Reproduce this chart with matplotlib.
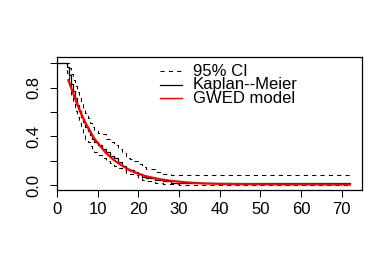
import matplotlib
matplotlib.use("Agg")
import matplotlib.pyplot as plt
from matplotlib.lines import Line2D

plt.rcParams['font.family'] = ['Liberation Sans', 'DejaVu Sans']

# Kaplan-Meier estimate (step function)
km_time = [0, 2.5, 3, 3.5, 4, 4.5, 5, 5.5, 6, 6.5, 7, 7.5, 8, 8.5, 9, 10, 11, 12,
           13, 14, 15, 16, 17, 18, 19, 20, 21, 22, 24, 26, 28, 30, 72]
km_surv = [1.0, 0.97, 0.90, 0.83, 0.77, 0.71, 0.66, 0.61, 0.56, 0.52, 0.48, 0.44,
           0.41, 0.38, 0.35, 0.33, 0.30, 0.27, 0.24, 0.22, 0.19, 0.16, 0.13, 0.12,
           0.11, 0.09, 0.07, 0.055, 0.04, 0.03, 0.02, 0.015, 0.015]
# 95% confidence limits
ci_upper = [1.0, 1.0, 0.96, 0.91, 0.86, 0.81, 0.76, 0.71, 0.67, 0.63, 0.59, 0.55,
            0.51, 0.48, 0.45, 0.43, 0.42, 0.38, 0.35, 0.33, 0.30, 0.26, 0.22, 0.21,
            0.20, 0.17, 0.15, 0.13, 0.11, 0.095, 0.085, 0.08, 0.08]
ci_lower = [1.0, 0.92, 0.82, 0.74, 0.67, 0.61, 0.56, 0.51, 0.47, 0.42, 0.38, 0.35,
            0.32, 0.29, 0.27, 0.25, 0.22, 0.20, 0.18, 0.16, 0.14, 0.12, 0.10, 0.09,
            0.08, 0.06, 0.045, 0.035, 0.02, 0.01, 0.006, 0.004, 0.004]
# GWED model fitted survival
gwed_time = [2.8, 4, 5, 6, 7, 8, 9, 10, 12, 14, 16, 18, 20, 22, 25, 28, 32, 36,
             40, 50, 60, 72]
gwed_surv = [0.86, 0.75, 0.66, 0.58, 0.51, 0.45, 0.39, 0.345, 0.265, 0.205, 0.16,
             0.12, 0.093, 0.072, 0.05, 0.035, 0.022, 0.014, 0.01, 0.007, 0.006, 0.005]

x_ticks = [0, 10, 20, 30, 40, 50, 60, 70]
y_ticks = [0.0, 0.2, 0.4, 0.6, 0.8, 1.0]
y_tick_labels = ["0.0", "", "0.4", "", "0.8", ""]
legend_labels = ["95% CI", "Kaplan--Meier", "GWED model"]

W, H = 392, 262
fig = plt.figure(figsize=(W / 100, H / 100), dpi=100)
ax = fig.add_axes([57 / W, 1 - 190 / H, (362 - 57) / W, (190 - 57) / H])

dash = (0, (4, 4))
ax.step(km_time, ci_upper, where='post', color='black', lw=0.75, linestyle=dash)
ax.step(km_time, ci_lower, where='post', color='black', lw=0.75, linestyle=dash)
ax.step(km_time, km_surv, where='post', color='black', lw=0.9)
ax.plot(gwed_time, gwed_surv, color='red', lw=1.6)

ax.set_xlim(0, 75)
ax.set_ylim(-0.04, 1.05)
ax.set_xticks(x_ticks)
ax.set_xticklabels([str(v) for v in x_ticks])
ax.set_yticks(y_ticks)
ax.set_yticklabels(y_tick_labels, rotation=90, va='center')
ax.tick_params(axis='both', length=5, width=0.75, labelsize=12, colors='black')
ax.tick_params(axis='x', pad=4)
ax.tick_params(axis='y', pad=6)
for s in ax.spines.values():
    s.set_linewidth(0.9)
    s.set_color('black')

# legend (no frame), placed in figure pixel coordinates
styles = [dict(color='black', lw=0.75, linestyle=dash),
          dict(color='black', lw=0.9),
          dict(color='red', lw=1.0)]
rows_y = [71, 85, 98.5]
for lab, st, yy in zip(legend_labels, styles, rows_y):
    fy = 1 - yy / H
    fig.add_artist(Line2D([160 / W, 182 / W], [fy, fy], transform=fig.transFigure, **st))
    fig.text(193 / W, fy, lab, fontsize=12, va='center', ha='left')

fig.savefig("out.png", dpi=100)
